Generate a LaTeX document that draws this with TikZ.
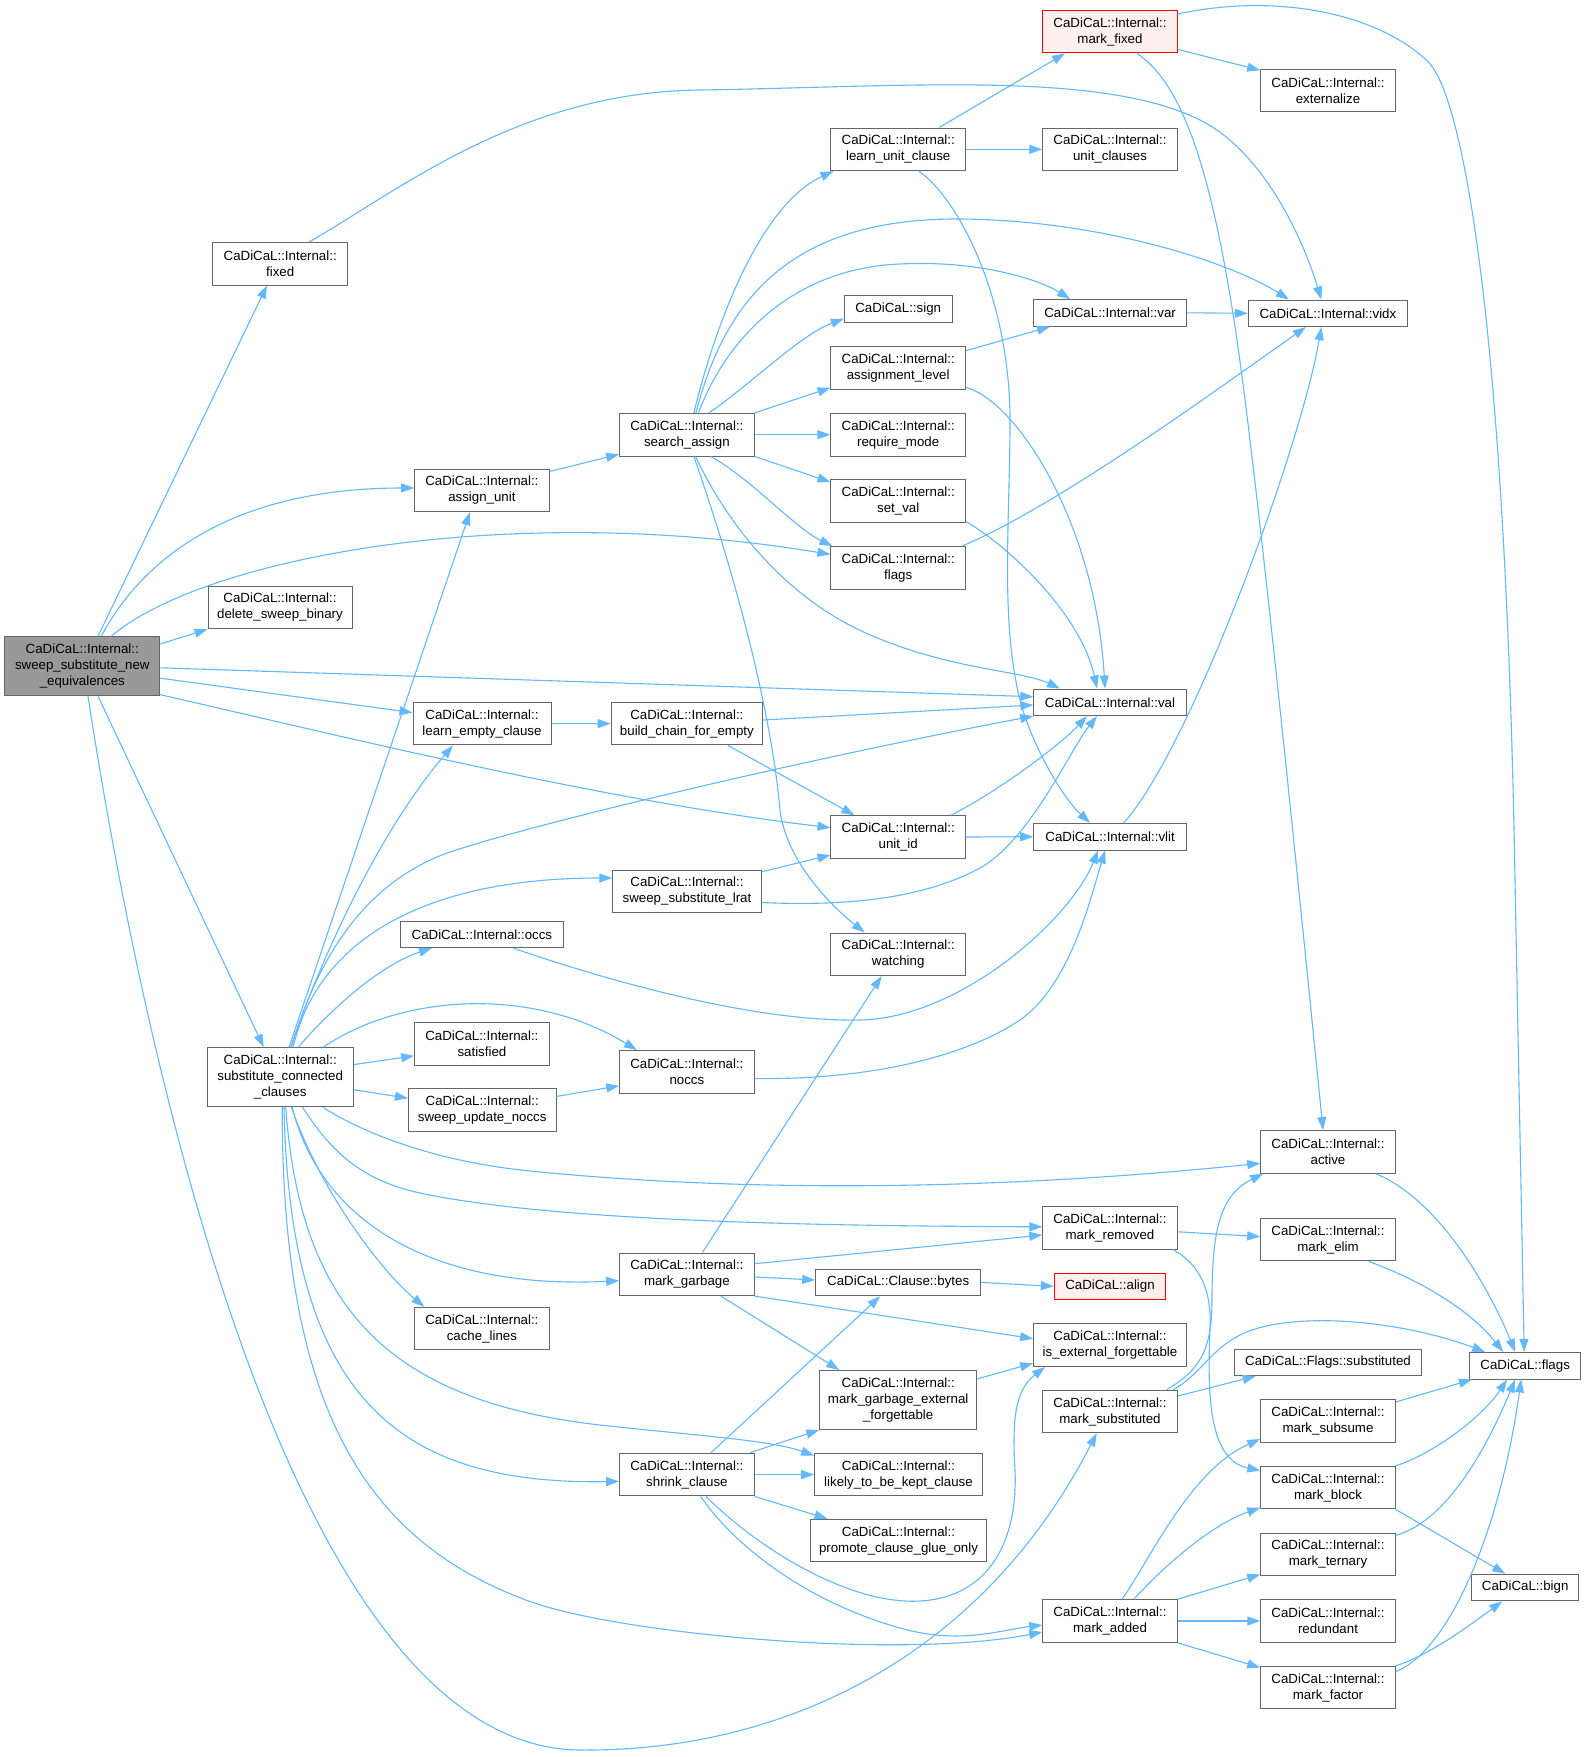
\documentclass[tikz,border=0pt]{standalone}
\usepackage{fontspec}
\setmainfont{Liberation Sans}
\usetikzlibrary{arrows.meta,calc}
\definecolor{edgec}{HTML}{63B8FF}
\definecolor{nodeb}{HTML}{666666}
\definecolor{mainfill}{HTML}{999999}
\definecolor{redfill}{HTML}{FFF0F0}
\begin{document}
\begin{tikzpicture}[x=1pt,y=-1pt,
  box/.style={draw=nodeb, fill=white, line width=1pt, inner sep=0pt, align=center,
    font=\fontsize{13.3pt}{16pt}\selectfont, minimum width=134.5pt, minimum height=42.6pt},
  one/.style={minimum height=26.6pt},
  three/.style={minimum height=59pt},
  redb/.style={draw=red, fill=redfill},
  e/.style={draw=edgec, line width=1.1pt, -{Triangle[length=13pt,width=9pt]}}]
\useasboundingbox (0,0) rectangle (1586,1757);
\fill[white] (0,0) rectangle (1586,1757);

% nodes
\node[box,three,fill=mainfill,minimum width=155pt] (main) at (82.3,666.2) {CaDiCaL::Internal::\\sweep\_substitute\_new\\\_equivalences};
\node[box] (fixed) at (280.2,263.7) {CaDiCaL::Internal::\\fixed};
\node[box] (asu) at (481.9,490.5) {CaDiCaL::Internal::\\assign\_unit};
\node[box,minimum width=144pt] (dsb) at (280,607.5) {CaDiCaL::Internal::\\delete\_sweep\_binary};
\node[box,minimum width=138pt] (lec) at (482,723.6) {CaDiCaL::Internal::\\learn\_empty\_clause};
\node[box,three,minimum width=146pt] (scc) at (280.2,1077.2) {CaDiCaL::Internal::\\substitute\_connected\\\_clauses};
\node[box,one,minimum width=163.2pt] (occs) at (481.9,934.3) {CaDiCaL::Internal::occs};
\node[box] (sat) at (481.9,1043.8) {CaDiCaL::Internal::\\satisfied};
\node[box,minimum width=147.6pt] (sun) at (482.2,1110.2) {CaDiCaL::Internal::\\sweep\_update\_noccs};
\node[box] (cache) at (481.9,1328.6) {CaDiCaL::Internal::\\cache\_lines};
\node[box] (sa) at (686.9,434.7) {CaDiCaL::Internal::\\search\_assign};
\node[box,minimum width=151.5pt] (bcfe) at (686.9,723.6) {CaDiCaL::Internal::\\build\_chain\_for\_empty};
\node[box,minimum width=148.4pt] (lrat) at (687,891.5) {CaDiCaL::Internal::\\sweep\_substitute\_lrat};
\node[box] (noccs) at (686.9,1071.8) {CaDiCaL::Internal::\\noccs};
\node[box] (mg) at (686.9,1274.3) {CaDiCaL::Internal::\\mark\_garbage};
\node[box] (shrink) at (686.9,1474.6) {CaDiCaL::Internal::\\shrink\_clause};
\node[box] (luc) at (898.2,149.3) {CaDiCaL::Internal::\\learn\_unit\_clause};
\node[box,one,minimum width=107.8pt] (sign) at (898.2,309.2) {CaDiCaL::sign};
\node[box] (asl) at (898.2,367.9) {CaDiCaL::Internal::\\assignment\_level};
\node[box] (rm) at (898.2,434.7) {CaDiCaL::Internal::\\require\_mode};
\node[box] (setval) at (898.2,501.1) {CaDiCaL::Internal::\\set\_val};
\node[box] (flagsi) at (898.2,567.9) {CaDiCaL::Internal::\\flags};
\node[box] (uid) at (898.2,837) {CaDiCaL::Internal::\\unit\_id};
\node[box] (watch) at (898.2,954.3) {CaDiCaL::Internal::\\watching};
\node[box,one,minimum width=165pt] (bytes) at (898.2,1282.4) {CaDiCaL::Clause::bytes};
\node[box,three,minimum width=157pt] (mgef) at (898.2,1399.9) {CaDiCaL::Internal::\\mark\_garbage\_external\\\_forgettable};
\node[box,minimum width=167.7pt] (likely) at (898.5,1474.6) {CaDiCaL::Internal::\\likely\_to\_be\_kept\_clause};
\node[box,minimum width=175.8pt] (promote) at (898.5,1540.6) {CaDiCaL::Internal::\\promote\_clause\_glue\_only};
\node[box,redb] (mfix) at (1110,31.6) {CaDiCaL::Internal::\\mark\_fixed};
\node[box] (uc) at (1110,149.3) {CaDiCaL::Internal::\\unit\_clauses};
\node[box,one,minimum width=152.8pt] (var) at (1110.1,312.8) {CaDiCaL::Internal::var};
\node[box,one,minimum width=152.3pt] (val) at (1110,702.3) {CaDiCaL::Internal::val};
\node[box,one,minimum width=152.8pt] (vlit) at (1110.1,836.7) {CaDiCaL::Internal::vlit};
\node[box] (mrem) at (1110,1227.8) {CaDiCaL::Internal::\\mark\_removed};
\node[box,one,redb,minimum width=111.4pt] (align) at (1110,1286.3) {CaDiCaL::align};
\node[box,minimum width=152.8pt] (isext) at (1110,1345.2) {CaDiCaL::Internal::\\is\_external\_forgettable};
\node[box] (msub) at (1110,1411.5) {CaDiCaL::Internal::\\mark\_substituted};
\node[box] (madd) at (1110,1621) {CaDiCaL::Internal::\\mark\_added};
\node[box] (ext) at (1328,90.3) {CaDiCaL::Internal::\\externalize};
\node[box,one,minimum width=159pt] (vidx) at (1327.9,313.3) {CaDiCaL::Internal::vidx};
\node[box] (active) at (1328,1151.8) {CaDiCaL::Internal::\\active};
\node[box] (melim) at (1328,1239.6) {CaDiCaL::Internal::\\mark\_elim};
\node[box,one,minimum width=187.6pt] (fsub) at (1328,1362.3) {CaDiCaL::Flags::substituted};
\node[box] (msubs) at (1328,1421) {CaDiCaL::Internal::\\mark\_subsume};
\node[box] (mblock) at (1328,1487.6) {CaDiCaL::Internal::\\mark\_block};
\node[box] (mtern) at (1328,1554.4) {CaDiCaL::Internal::\\mark\_ternary};
\node[box] (red) at (1328,1621) {CaDiCaL::Internal::\\redundant};
\node[box] (mfac) at (1328,1687.6) {CaDiCaL::Internal::\\mark\_factor};
\node[box,one,minimum width=111.5pt] (flags) at (1525.2,1365.7) {CaDiCaL::flags};
\node[box,one,minimum width=107.5pt] (bign) at (1525.2,1587.5) {CaDiCaL::bign};

% edges from main
\draw[e] ($(main.north)+(15.7,0)$) -- ($(fixed.south)+(-13.2,0)$);
\draw[e] ($(main.north)+(19,0)$) .. controls (150,545) and (250,488) .. ($(asu.west)+(0,-2.5)$);
\draw[e] ($(main.north)+(29,0)$) .. controls (200,560) and (500,500) .. ($(flagsi.west)+(0,-13.5)$);
\draw[e] ($(main.east)+(0,-22.3)$) -- (dsb.south west);
\draw[e] ($(main.east)+(0,1.6)$) -- ($(val.west)+(0,-5.6)$);
\draw[e] ($(main.east)+(0,12)$) -- ($(lec.west)+(0,-11)$);
\draw[e] ($(main.east)+(0,28.5)$) .. controls (350,738) and (600,800) .. ($(uid.west)+(0,-9.3)$);
\draw[e] ($(main.south)+(15.7,0)$) -- ($(scc.north)+(-16.5,0)$);
\draw[e] ($(main.south)+(5.7,0)$) .. controls (150,1100) and (300,1748) .. (580,1750) .. controls (780,1752) and (980,1660) .. ($(msub.south)+(-13.3,0)$);

% fixed
\draw[e] ($(fixed.north)+(29,0)$) .. controls (400,190) and (520,92) .. (700,90) .. controls (900,87) and (1100,70) .. (1200,120) .. controls (1260,150) and (1300,230) .. ($(vidx.north)+(-6.5,0)$);

% assign_unit / search_assign
\draw[e] ($(asu.east)+(0,-19)$) -- ($(sa.west)+(0,19.5)$);
\draw[e] ($(sa.north)+(7,0)$) .. controls (715,325) and (760,205) .. ($(luc.south west)+(3,0)$);
\draw[e] ($(sa.north)+(9,0)$) .. controls (725,300) and (790,218) .. (960,219) .. controls (1100,220) and (1230,262) .. ($(vidx.north)+(-39,0)$);
\draw[e] ($(sa.north)+(11.5,0)$) .. controls (730,330) and (800,268) .. (900,264) .. controls (980,260) and (1040,280) .. ($(var.north)+(-40,0)$);
\draw[e] ($(sa.north)+(22,0)$) .. controls (750,385) and (800,335) .. ($(sign.west)+(0,9.5)$);
\draw[e] (sa.north east) -- ($(asl.south west)+(0,-2)$);
\draw[e] (sa.east) -- (rm.west);
\draw[e] (sa.south east) -- ($(setval.west)+(0,-19)$);
\draw[e] ($(sa.south)+(24,0)$) .. controls (750,478) and (795,528) .. ($(flagsi.north west)+(2,0)$);
\draw[e] ($(sa.south)+(8.7,0)$) .. controls (730,530) and (790,600) .. (868,634) .. controls (950,670) and (1020,670) .. ($(val.north)+(-50,0)$);
\draw[e] ($(sa.south)+(7,0)$) .. controls (730,560) and (770,700) .. (780,810) .. controls (786,860) and (830,905) .. ($(watch.north)+(-33.5,0)$);

% learn_unit_clause
\draw[e] ($(luc.north)+(41,0)$) -- ($(mfix.south)+(-45,0)$);
\draw[e] (luc.east) -- (uc.west);
\draw[e] ($(luc.south)+(20.6,0)$) .. controls (960,200) and (1010,300) .. (1010,421) .. controls (1010,520) and (1000,620) .. (1020,700) .. controls (1030,740) and (1060,795) .. ($(vlit.north)+(-20,0)$);

% mark_fixed
\draw[e] ($(mfix.east)+(0,17.8)$) -- ($(ext.west)+(0,-20)$);
\draw[e] ($(mfix.east)+(0,-17.6)$) .. controls (1280,-8) and (1380,15) .. (1428,61.7) .. controls (1460,92) and (1505,300) .. (1515,880) -- ($(flags.north)+(-1,0)$);
\draw[e] ($(mfix.south)+(27,0)$) .. controls (1185,85) and (1212,180) .. (1234,320) .. controls (1256,460) and (1300,900) .. ($(active.north)+(-5,0)$);

% var, assignment_level, set_val, flags
\draw[e] (var.east) -- (vidx.west);
\draw[e] ($(asl.east)+(0,-17.2)$) -- ($(var.south)+(-60,0)$);
\draw[e] ($(asl.east)+(0,19.5)$) .. controls (1015,400) and (1095,520) .. ($(val.north)+(-5,0)$);
\draw[e] ($(setval.east)+(0,20.6)$) .. controls (1000,540) and (1080,610) .. ($(val.north)+(-13,0)$);
\draw[e] ($(flagsi.north east)+(-4,0)$) .. controls (1060,505) and (1230,380) .. ($(vidx.south)+(-22,0)$);

% learn_empty, build_chain, unit_id, vlit, lrat
\draw[e] (lec.east) -- (bcfe.west);
\draw[e] ($(bcfe.east)+(0,-3.6)$) -- ($(val.west)+(0,2.7)$);
\draw[e] ($(bcfe.south)+(41,0)$) -- ($(uid.north)+(-43.7,0)$);
\draw[e] ($(uid.north)+(53,0)$) .. controls (1000,790) and (1060,745) .. ($(val.south)+(-23,0)$);
\draw[e] (uid.east) -- (vlit.west);
\draw[e] ($(vlit.north)+(13.5,0)$) .. controls (1190,750) and (1300,450) .. ($(vidx.south)+(-6.5,0)$);
\draw[e] ($(lrat.east)+(0,-19.7)$) -- ($(uid.west)+(0,18)$);
\draw[e] ($(lrat.east)+(0,11)$) .. controls (860,907) and (930,895) .. (980,868) .. controls (1030,840) and (1070,750) .. ($(val.south)+(-13,0)$);

% substitute_connected_clauses
\draw[e] ($(scc.north)+(8.8,0)$) -- ($(asu.south)+(-12,0)$);
\draw[e] ($(scc.north)+(10.5,0)$) .. controls (320,960) and (380,830) .. ($(lec.south)+(-29,0)$);
\draw[e] ($(scc.north)+(11.2,0)$) .. controls (320,950) and (370,880) .. (450,852) .. controls (530,825) and (800,760) .. (val.south west);
\draw[e] ($(scc.north)+(13,0)$) .. controls (315,950) and (410,878) .. ($(lrat.west)+(0,-13.5)$);
\draw[e] ($(scc.north)+(18,0)$) .. controls (330,1010) and (380,965) .. ($(occs.south)+(-50,0)$);
\draw[e] ($(scc.north)+(43,0)$) .. controls (400,995) and (530,985) .. ($(noccs.north)+(-50,0)$);
\draw[e] ($(scc.east)+(0,-12.6)$) -- ($(sat.west)+(0,12)$);
\draw[e] ($(scc.east)+(0,12.5)$) -- ($(sun.west)+(0,-12)$);
\draw[e] ($(sun.east)+(0,-13.8)$) -- ($(noccs.west)+(0,14)$);
\draw[e] ($(occs.south)+(31.4,0)$) .. controls (620,985) and (760,1022) .. (860,1020) .. controls (960,1018) and (1070,920) .. ($(vlit.south)+(-12,0)$);
\draw[e] ($(noccs.east)+(0,6.7)$) .. controls (860,1080) and (960,1060) .. (1020,1020) .. controls (1070,985) and (1090,900) .. ($(vlit.south)+(-5,0)$);
\draw[e] ($(scc.south)+(42.7,0)$) .. controls (350,1125) and (420,1160) .. (530,1171) .. controls (750,1193) and (1000,1190) .. ($(active.west)+(0,11.5)$);
\draw[e] ($(scc.south)+(22.4,0)$) .. controls (330,1150) and (360,1180) .. (420,1193) .. controls (560,1223) and (850,1226) .. ($(mrem.west)+(0,-1)$);
\draw[e] ($(scc.south)+(12,0)$) .. controls (320,1220) and (430,1290) .. ($(mg.west)+(0,6.4)$);
\draw[e] ($(scc.south)+(11.2,0)$) .. controls (320,1190) and (380,1270) .. ($(cache.north)+(-57.6,0)$);
\draw[e] ($(scc.south)+(5.5,0)$) .. controls (300,1300) and (380,1400) .. (600,1425) .. controls (700,1436) and (770,1440) .. ($(likely.west)+(0,-19)$);
\draw[e] ($(scc.south)+(3.8,0)$) .. controls (290,1400) and (400,1485) .. ($(shrink.west)+(0,6.8)$);
\draw[e] ($(scc.south)+(2,0)$) .. controls (282,1400) and (360,1540) .. (530,1601.5) .. controls (620,1634) and (900,1660) .. ($(madd.west)+(0,11)$);

% mark_garbage
\draw[e] ($(mg.north)+(15.5,0)$) -- ($(watch.south)+(-16.6,0)$);
\draw[e] ($(mg.east)+(0,-10.6)$) -- ($(mrem.west)+(0,7.2)$);
\draw[e] ($(mg.east)+(0,2.7)$) -- ($(bytes.west)+(0,-2.4)$);
\draw[e] (mg.south east) -- ($(isext.west)+(0,-6.6)$);
\draw[e] ($(mg.south)+(34,0)$) -- ($(mgef.north)+(-59,0)$);

% shrink_clause
\draw[e] ($(shrink.north)+(24,0)$) -- ($(bytes.south)+(-18,0)$);
\draw[e] ($(shrink.north)+(62.8,0)$) -- (mgef.south west);
\draw[e] (shrink.east) -- (likely.west);
\draw[e] (shrink.south east) -- ($(promote.north)+(-71,0)$);
\draw[e] ($(shrink.south)+(19,0)$) .. controls (760,1550) and (850,1605) .. (920,1601) .. controls (990,1597) and (1018,1540) .. (1015,1470) .. controls (1012,1420) and (1015,1390) .. ($(isext.south)+(-65,0)$);
\draw[e] ($(shrink.south)+(13.8,0)$) .. controls (730,1540) and (800,1600) .. (900,1628) .. controls (960,1645) and (1000,1630) .. ($(madd.west)+(0,4)$);

% right part
\draw[e] (bytes.east) -- (align.west);
\draw[e] ($(mgef.east)+(0,-21)$) -- ($(isext.west)+(0,18)$);
\draw[e] ($(mrem.east)+(0,4)$) -- ($(melim.west)+(0,-3)$);
\draw[e] ($(mrem.south)+(63.3,0)$) .. controls (1200,1265) and (1212,1290) .. (1210,1330) .. controls (1207,1400) and (1210,1460) .. ($(mblock.west)+(0,-17)$);
\draw[e] ($(msub.north)+(56.7,0)$) .. controls (1200,1370) and (1212,1350) .. (1212,1300) .. controls (1212,1230) and (1220,1195) .. ($(active.south west)+(3,0)$);
\draw[e] ($(msub.north)+(63.3,0)$) .. controls (1200,1375) and (1210,1350) .. (1240,1335) .. controls (1290,1310) and (1400,1320) .. ($(flags.north)+(-40,0)$);
\draw[e] ($(msub.east)+(0,-15.5)$) -- ($(fsub.south west)+(22,0)$);
\draw[e] ($(madd.north)+(12,0)$) .. controls (1150,1560) and (1190,1470) .. ($(msubs.west)+(0,18)$);
\draw[e] ($(madd.north)+(23.8,0)$) .. controls (1160,1570) and (1210,1525) .. ($(mblock.west)+(0,20)$);
\draw[e] (madd.north east) -- ($(mtern.west)+(0,20)$);
\draw[e] (madd.east) -- (red.west);
\draw[e] (madd.south east) -- ($(mfac.west)+(0,-20)$);
\draw[e] ($(active.south)+(47.5,0)$) .. controls (1440,1200) and (1490,1290) .. ($(flags.north)+(-10,0)$);
\draw[e] ($(melim.south)+(40.7,0)$) .. controls (1420,1280) and (1470,1310) .. ($(flags.north)+(-22,0)$);
\draw[e] ($(msubs.east)+(0,-19)$) -- ($(flags.south west)+(3,0)$);
\draw[e] (mblock.north east) .. controls (1430,1455) and (1480,1420) .. ($(flags.south)+(-18,0)$);
\draw[e] (mblock.south east) -- ($(bign.north)+(-20,0)$);
\draw[e] ($(mtern.east)+(0,-19)$) .. controls (1450,1520) and (1490,1440) .. ($(flags.south)+(-10,0)$);
\draw[e] ($(mfac.east)+(0,-16)$) .. controls (1450,1650) and (1500,1530) .. ($(flags.south)+(-4,0)$);
\draw[e] (mfac.north east) .. controls (1430,1655) and (1470,1625) .. ($(bign.south)+(-23,0)$);
\end{tikzpicture}
\end{document}
